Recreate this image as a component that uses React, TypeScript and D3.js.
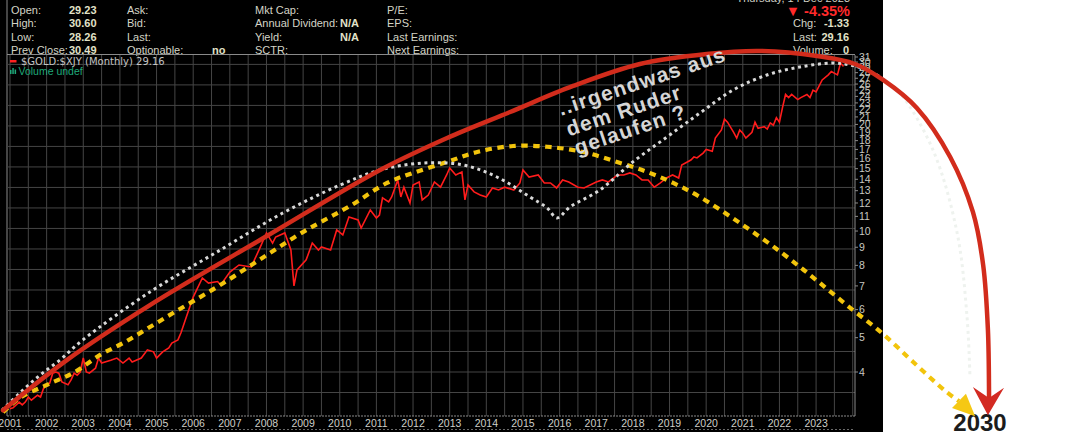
import * as d3 from "d3";

// $GOLD:$XJY monthly closes
const months = [
  "2001-01", "2001-02", "2001-04", "2001-05", "2001-06", "2001-07", "2001-08", "2001-10", "2001-11", "2001-12",
  "2002-01", "2002-02", "2002-03", "2002-04", "2002-05", "2002-06", "2002-08", "2002-09", "2002-10", "2002-11", "2002-12",
  "2003-01", "2003-02", "2003-03", "2003-05", "2003-06", "2003-07", "2003-10", "2003-12",
  "2004-02", "2004-04", "2004-05", "2004-08", "2004-10", "2004-12",
  "2005-01", "2005-03", "2005-05", "2005-06", "2005-08", "2005-09", "2005-11",
  "2006-01", "2006-04", "2006-06", "2006-09", "2006-10",
  "2007-01", "2007-04", "2007-08", "2007-11",
  "2008-01", "2008-03", "2008-04", "2008-07", "2008-09", "2008-10", "2008-11",
  "2009-02", "2009-04", "2009-06", "2009-07", "2009-10", "2009-12",
  "2010-02", "2010-04", "2010-07", "2010-08", "2010-11",
  "2011-01", "2011-02", "2011-03", "2011-05", "2011-06", "2011-08", "2011-09", "2011-10", "2011-12",
  "2012-01", "2012-03", "2012-04", "2012-06", "2012-08", "2012-10", "2012-12",
  "2013-01", "2013-03", "2013-05", "2013-06", "2013-07", "2013-09", "2013-11",
  "2014-01", "2014-03", "2014-05", "2014-07", "2014-10", "2014-12",
  "2015-01", "2015-03", "2015-06", "2015-08", "2015-10", "2015-12",
  "2016-02", "2016-04", "2016-07", "2016-09", "2016-11",
  "2017-01", "2017-03", "2017-05", "2017-08", "2017-10", "2017-12",
  "2018-02", "2018-04", "2018-06", "2018-08", "2018-10", "2018-12",
  "2019-02", "2019-04", "2019-05", "2019-08", "2019-09", "2019-10", "2019-12",
  "2020-01", "2020-03", "2020-04", "2020-06", "2020-07", "2020-08", "2020-10", "2020-11", "2020-12",
  "2021-01", "2021-02", "2021-04", "2021-05", "2021-06", "2021-08", "2021-09", "2021-10", "2021-11", "2021-12",
  "2022-01", "2022-02", "2022-03", "2022-04", "2022-05", "2022-07", "2022-08", "2022-10", "2022-11", "2022-12",
  "2023-01", "2023-03", "2023-05", "2023-06", "2023-08", "2023-09", "2023-10",
];
const closes = [
  3.15, 3.17, 3.29, 3.23, 3.29, 3.4, 3.33, 3.44, 3.4, 3.6,
  3.68, 3.72, 3.97, 4.0, 3.97, 3.75, 3.68, 3.8, 3.97, 3.92, 4.0,
  4.38, 4.0, 3.97, 4.1, 4.38, 4.24, 4.32, 4.38,
  4.24, 4.38, 4.27, 4.38, 4.62, 4.56,
  4.38, 4.56, 4.68, 4.83, 4.93, 5.16, 5.8,
  6.51, 7.37, 7.13, 7.2, 7.04,
  7.66, 8.02, 7.92, 9.02,
  9.88, 9.25, 9.62, 9.88, 8.84, 7.0, 7.77,
  8.29, 9.25, 8.84, 9.02, 8.84, 10.07,
  9.75, 10.96, 10.75, 10.2, 11.47,
  10.89, 11.1, 12.4, 12.08, 12.48, 13.94, 12.48, 13.3, 12.0,
  13.49, 13.76, 12.24, 12.64, 13.76, 13.3, 14.4,
  15.07, 14.4, 14.69, 12.24, 13.49, 12.9, 12.64,
  12.48, 13.23, 13.06, 13.3, 13.06, 13.67,
  14.88, 14.21, 14.4, 13.67, 13.67, 13.23,
  13.94, 13.76, 13.3, 13.23, 13.49,
  13.76, 13.94, 13.76, 14.4, 14.4, 14.59,
  14.4, 13.94, 13.94, 13.3, 13.67, 14.12,
  14.4, 14.12, 15.37, 15.87, 16.18, 16.08, 16.6,
  17.0, 16.8, 18.3, 19.3, 20.7, 20.3, 19.0, 18.3, 19.3,
  18.9, 18.3, 19.0, 20.3, 19.5, 19.7, 19.4, 20.2, 19.9, 20.9,
  20.3, 22.3, 24.3, 23.8, 24.3, 23.5, 23.8, 24.3, 23.8, 25.0,
  24.7, 26.7, 27.6, 28.2, 27.6, 29.8, 29.16,
];

// hand-drawn overlays, [decimal year, price ratio]
const redArc: [number, number][] = [
  [2000.81, 3.12], [2002.56, 4.33], [2004.82, 6.18], [2008.01, 9.68], [2011.1, 14.87],
  [2012.93, 18.31], [2014.65, 21.68], [2016.37, 25.68], [2018.19, 29.62], [2020.02, 31.61],
  [2021.47, 32.24], [2023.03, 31.2], [2024.06, 29.62], [2024.83, 26.7], [2025.75, 22.25],
  [2026.66, 16.18], [2027.28, 11.32], [2027.56, 8.02], [2027.69, 5.26], [2027.72, 3.51], [2027.72, 3.38],
];
const redHead: [number, number][] = [[2027.28, 3.63], [2027.72, 3.38], [2028.13, 3.61], [2027.69, 3.02]];

const whiteBow: [number, number][] = [
  [2000.78, 3.12], [2001.27, 3.49], [2001.82, 3.92], [2002.37, 4.33], [2002.99, 4.93],
  [2004.82, 6.73], [2006.65, 8.73], [2008.45, 11.25], [2010.01, 13.49], [2011.1, 14.87],
  [2012.27, 15.56], [2013.36, 15.37], [2014.29, 14.21], [2015.19, 12.48], [2015.66, 11.62],
  [2015.93, 10.89], [2016.28, 11.69], [2017.1, 13.06], [2018.0, 15.67], [2018.93, 18.43],
  [2019.83, 21.54], [2020.73, 25.0], [2021.66, 27.58], [2022.56, 29.05], [2023.46, 29.82],
  [2023.93, 29.43], [2024.39, 28.49], [2024.83, 26.87], [2025.29, 24.53], [2026.19, 16.94],
  [2026.85, 9.87], [2027.12, 5.72], [2027.2, 3.87],
];

const yellowBow: [number, number][] = [
  [2000.81, 3.08], [2001.27, 3.38], [2002.01, 3.68], [2002.77, 4.0], [2003.46, 4.47],
  [2004.14, 4.86], [2004.82, 5.36], [2005.5, 5.91], [2006.19, 6.51], [2006.87, 7.18],
  [2007.55, 7.97], [2008.18, 8.78], [2008.86, 9.75], [2009.54, 10.68], [2010.28, 11.77],
  [2011.29, 13.67], [2012.0, 14.59], [2012.93, 15.67], [2013.75, 16.72], [2014.73, 17.38],
  [2015.66, 17.3], [2016.64, 16.72], [2017.57, 15.67], [2018.39, 14.68], [2019.1, 13.67],
  [2019.83, 12.48], [2020.92, 10.54], [2022.07, 8.67], [2022.97, 7.32], [2023.87, 6.14],
  [2024.8, 5.15], [2025.65, 4.27], [2026.52, 3.54], [2026.9, 3.31],
];
const yellowHead: [number, number][] = [[2026.71, 3.165], [2027.09, 3.47], [2027.34, 3.0]];

const axisValues = d3.range(4, 32);
const yearTicks = d3.range(2001, 2024);

const quoteLabels = [
  ["Open:", "High:", "Low:", "Prev Close:"],
  ["Ask:", "Bid:", "Last:", "Optionable:"],
  ["Mkt Cap:", "Annual Dividend:", "Yield:", "SCTR:"],
  ["P/E:", "EPS:", "Last Earnings:", "Next Earnings:"],
];
const quoteValues = [
  ["29.23", "30.60", "28.26", "30.49"],
  ["", "", "", "no"],
  ["", "N/A", "N/A", ""],
  ["", "", "", ""],
];
const sideLabels = ["Chg:", "Last:", "Volume:"];
const sideValues = ["-1.33", "29.16", "0"];
const noteLines = ["..irgendwas aus", "dem Ruder", "gelaufen ?"];

const SANS = "'Liberation Sans', Arial, sans-serif";

export default function App() {
  const plot = { left: 7, right: 855, top: 55, bottom: 416 };
  const x = d3.scaleLinear().domain([2001, 2024]).range([10, 852.72]);
  const y = d3.scaleLog().domain([4, 31]).range([372, 57]);

  const toYear = (s: string) => {
    const [yr, mo] = s.split("-").map(Number);
    return yr + (mo - 1) / 12;
  };
  const pricePts = months.map((m, i) => [toYear(m), closes[i]] as [number, number]);

  const straight = d3.line<[number, number]>().x((d) => x(d[0])).y((d) => y(d[1]));
  const smooth = d3.line<[number, number]>().x((d) => x(d[0])).y((d) => y(d[1])).curve(d3.curveCatmullRom.alpha(0.5));
  const poly = (pts: [number, number][]) => straight(pts) + "Z";

  // grid: half-year verticals, evenly spaced horizontals (log space)
  const halfYears = d3.range(2001, 2024.01, 0.5);
  const gridVals = d3.range(-1, 16).map((k) => 4 * Math.pow(1.1426, k));

  const colLabelX = [11, 127, 255, 387];
  const colValueX = [69, 212, 340, 440];
  const rowY = [13.5, 27, 40.5, 53.5];

  return (
    <svg width={1068} height={432} style={{ position: "absolute", left: 0, top: 0, background: "#fff" }} fontFamily={SANS}>
      <defs>
        <clipPath id="plotClip">
          <rect x={plot.left} y={plot.top} width={plot.right - plot.left} height={plot.bottom - plot.top} />
        </clipPath>
        <clipPath id="darkSide">
          <rect x={0} y={0} width={883} height={432} />
        </clipPath>
        <clipPath id="lightSide">
          <rect x={883} y={0} width={185} height={432} />
        </clipPath>
      </defs>

      <rect x={0} y={0} width={883} height={432} fill="#000" />

      {/* quote header */}
      <text x={850} y={1.5} textAnchor="end" fontSize={11} fill="#cfcfc4">Thursday, 14 Dec 2023</text>
      {quoteLabels.map((col, ci) =>
        col.map((lab, ri) => (
          <text key={`l${ci}${ri}`} x={colLabelX[ci]} y={rowY[ri]} fontSize={11} fill="#d4d4c6">{lab}</text>
        ))
      )}
      {quoteValues.map((col, ci) =>
        col.map((v, ri) => v ? (
          <text key={`v${ci}${ri}`} x={colValueX[ci]} y={rowY[ri]} fontSize={11} fontWeight="bold" fill="#e2e2c8">{v}</text>
        ) : null)
      )}
      <text x={850} y={15.5} textAnchor="end" fontSize={14.5} fontWeight="bold" fill="#ff2a2a">▼ -4.35%</text>
      {sideLabels.map((lab, i) => (
        <g key={lab}>
          <text x={793} y={rowY[i + 1]} fontSize={11} fill="#d4d4c6">{lab}</text>
          <text x={849} y={rowY[i + 1]} textAnchor="end" fontSize={11} fontWeight="bold" fill="#e2e2c8">{sideValues[i]}</text>
        </g>
      ))}
      <line x1={7} x2={7} y1={0} y2={plot.bottom} stroke="#8a8a8a" />
      <line x1={7} x2={plot.right} y1={plot.top - 0.5} y2={plot.top - 0.5} stroke="#8a8a8a" />

      {/* grid */}
      <g stroke="#454545" strokeWidth={1}>
        {halfYears.map((t) => (
          <line key={`gx${t}`} x1={x(t)} x2={x(t)} y1={plot.top} y2={plot.bottom} />
        ))}
        {gridVals.map((v) => (
          <line key={`gy${v}`} x1={plot.left} x2={plot.right} y1={y(v)} y2={y(v)} />
        ))}
      </g>
      <line x1={plot.right} x2={plot.right} y1={plot.top} y2={plot.bottom} stroke="#8a8a8a" />
      <line x1={plot.left} x2={plot.right} y1={plot.bottom} y2={plot.bottom} stroke="#8a8a8a" strokeDasharray="2 1" />
      <line x1={plot.left} x2={plot.right} y1={429.5} y2={429.5} stroke="#6a6a6a" strokeDasharray="2 2" />

      {/* right axis */}
      {axisValues.map((v) => (
        <g key={`ya${v}`}>
          <line x1={plot.right} x2={plot.right + 3} y1={y(v)} y2={y(v)} stroke="#8a8a8a" />
          <text x={859} y={y(v)} dy="0.35em" fontSize={10.5} fill="#c8c8c0">{v}</text>
        </g>
      ))}
      {/* bottom axis */}
      {yearTicks.map((t) => (
        <text key={`xa${t}`} x={x(t)} y={427} textAnchor="middle" fontSize={10.5} fill="#cfcfc8">{t}</text>
      ))}

      {/* legend */}
      <rect x={10} y={60} width={6.5} height={2.5} fill="#ff2020" />
      <text x={21} y={65} fontSize={10} fontFamily="'DejaVu Sans', sans-serif" fill="#c4c4c4">$GOLD:$XJY (Monthly) 29.16</text>
      <rect x={10} y={70} width={1.5} height={4} fill="#1fa97a" />
      <rect x={12.3} y={68} width={1.5} height={6} fill="#1fa97a" />
      <rect x={14.6} y={69.5} width={1.5} height={4.5} fill="#1fa97a" />
      <text x={18.5} y={74.5} fontSize={10.5} fill="#1fa97a">Volume undef</text>

      {/* price line */}
      <path d={straight(pricePts) ?? ""} fill="none" stroke="#ff1c1c" strokeWidth={1.6} clipPath="url(#plotClip)" />

      {/* overlays */}
      <path d={smooth(yellowBow) ?? ""} fill="none" stroke="#f2c40c" strokeWidth={4.2} strokeDasharray="6.5 5.5" />
      <path d={smooth(whiteBow) ?? ""} fill="none" stroke="#d8d8d8" strokeWidth={3} strokeDasharray="3 3.7" clipPath="url(#darkSide)" />
      <path d={smooth(whiteBow) ?? ""} fill="none" stroke="#eef2ee" strokeWidth={3} strokeDasharray="3 3.7" clipPath="url(#lightSide)" />
      <path d={smooth(redArc) ?? ""} fill="none" stroke="#d22c1c" strokeWidth={4.5} strokeLinecap="round" />

      <g transform="translate(561,116) rotate(-18.5)">
        {noteLines.map((s, i) => (
          <text key={s} x={[0, 1, 3][i]} y={[0, 22, 42][i]} fontSize={21} fontWeight="bold" letterSpacing={1.2} fill="#d6d6d6">{s}</text>
        ))}
      </g>

      <text x={980} y={430.5} textAnchor="middle" fontSize={24} fontWeight="bold" fill="#1c1c1c">2030</text>
      <path d={poly(yellowHead)} fill="#f5c814" />
      <path d={poly(redHead)} fill="#d32a22" />
    </svg>
  );
}
